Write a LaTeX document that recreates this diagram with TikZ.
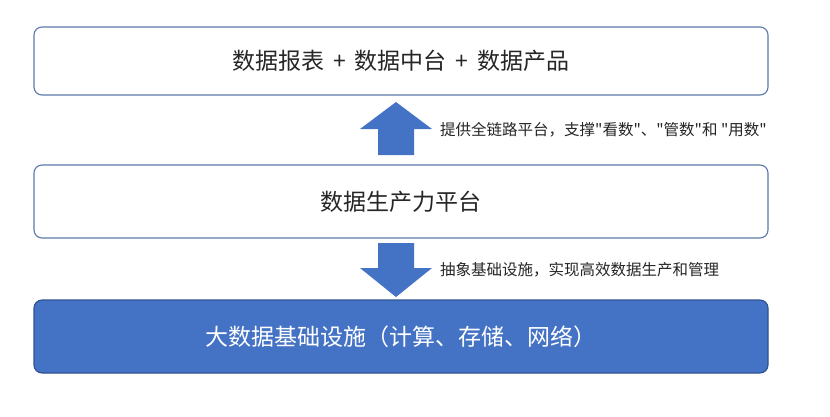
\documentclass[tikz,border=0pt]{standalone}
\usepackage{fontspec}
\setmainfont{Noto Sans CJK SC}
\newfontfamily\cjk{Noto Sans CJK SC}
\usetikzlibrary{positioning, calc}

\definecolor{boxline}{RGB}{91,121,170}
\definecolor{office}{RGB}{68,114,196}
\definecolor{officedark}{RGB}{47,82,143}

\newcommand{\plussep}{\hspace{3.5pt} + \hspace{3.5pt}}

\begin{document}
\begin{tikzpicture}[x=1pt, y=-1pt]
        \tikzstyle{layer}=[rectangle, rounded corners=8pt, minimum width=734pt, line width=1.1pt, font=\cjk\fontsize{23}{27}\selectfont, inner sep=0pt];
        \tikzstyle{note}=[anchor=west, inner sep=0pt, font=\cjk\fontsize{15.5}{18}\selectfont, text=black!85];
        \tikzstyle{bigarrow}=[fill=office, draw=none];

        \fill[white] (0, 0) rectangle (830, 416);
        \useasboundingbox (0, 0) rectangle (830, 416);

        \node[layer, draw=boxline, fill=white, minimum height=68pt, text=black!85] (report) at (401, 61) {数据报表\plussep 数据中台\plussep 数据产品};
        \node[layer, draw=boxline, fill=white, minimum height=73pt, text=black!85] (platform) at (401, 201.5) {数据生产力平台};
        \node[layer, draw=officedark, fill=office, minimum height=73pt, text=white] (infra) at (401, 336.5) {大数据基础设施（计算、存储、网络）};

        % up arrow
        \fill[bigarrow] (378, 155) -- (378, 129) -- (360, 129) -- (396, 102) -- (432, 129) -- (414, 129) -- (414, 155) -- cycle;
        % down arrow
        \fill[bigarrow] (378, 243) -- (378, 268) -- (360, 268) -- (396, 297) -- (432, 268) -- (414, 268) -- (414, 243) -- cycle;

        \node[note] (uptext) at (440, 130) {提供全链路平台，支撑"看数"、"管数"和 "用数"};
        \node[note] (downtext) at (440, 270) {抽象基础设施，实现高效数据生产和管理};
    \end{tikzpicture}
\end{document}
